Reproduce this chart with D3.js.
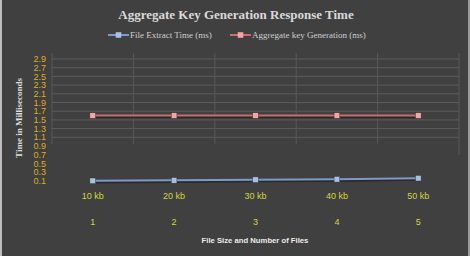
<!DOCTYPE html>
<html>
<head>
<meta charset="utf-8">
<script src="https://cdn.jsdelivr.net/npm/d3@7"></script>
<style>
  body { margin: 0; background: #404040; }
  svg { display: block; }
</style>
</head>
<body>
<svg id="chart" width="470" height="256"></svg>
<script>
// chart values
const sizes = ["10 kb", "20 kb", "30 kb", "40 kb", "50 kb"];
const fileCounts = ["1", "2", "3", "4", "5"];
const extractTime = [0.1, 0.11, 0.125, 0.135, 0.16];
const aggregateTime = [1.6, 1.6, 1.6, 1.6, 1.6];
const yTicks = [0.1, 0.3, 0.5, 0.7, 0.9, 1.1, 1.3, 1.5, 1.7, 1.9, 2.1, 2.3, 2.5, 2.7, 2.9];
const gridTicks = [1.1, 1.3, 1.5, 1.7, 1.9, 2.1, 2.3, 2.5, 2.7, 2.9];
const seriesNames = ["File Extract Time (ms)", "Aggregate key Generation (ms)"];

const width = 470, height = 256;
const margin = { top: 59, right: 11, bottom: 75, left: 52 };

const svg = d3.select("#chart");

// background + side borders
svg.append("rect").attr("width", width).attr("height", height).attr("fill", "#404040");
svg.append("rect").attr("x", 0).attr("width", 2).attr("height", height).attr("fill", "#bdbdbd");
svg.append("rect").attr("x", width - 2).attr("width", 2).attr("height", height).attr("fill", "#9a9a9a");

const xScale = d3.scaleBand()
    .domain(sizes)
    .range([margin.left, width - margin.right]);

const yScale = d3.scaleLinear()
    .domain([1.1, 2.9])
    .range([137.3, margin.top]);

// gridlines
const grid = svg.append("g");
grid.selectAll(".hgrid")
    .data(gridTicks)
    .enter().append("line")
    .attr("x1", margin.left)
    .attr("x2", width - margin.right)
    .attr("y1", d => yScale(d))
    .attr("y2", d => yScale(d))
    .attr("stroke", "#5c5c5c")
    .attr("stroke-width", 1);

const vx = sizes.map(s => xScale(s)).concat([xScale.range()[1]]);
grid.selectAll(".vgrid")
    .data(vx)
    .enter().append("line")
    .attr("x1", d => d)
    .attr("x2", d => d)
    .attr("y1", 53)
    .attr("y2", (d, i) => i === vx.length - 1 ? 155 : 144)
    .attr("stroke", "#585858")
    .attr("stroke-width", 1);

// y tick labels
svg.append("g").selectAll("text")
    .data(yTicks)
    .enter().append("text")
    .attr("x", 46)
    .attr("y", d => yScale(d))
    .attr("dy", "0.35em")
    .attr("text-anchor", "end")
    .attr("fill", "#dcae22")
    .style("font", "9px 'Liberation Sans', sans-serif")
    .text(d => d.toFixed(1));

// y title
svg.append("text")
    .attr("transform", `translate(22,118) rotate(-90)`)
    .attr("text-anchor", "middle")
    .attr("fill", "#dedede")
    .style("font", "bold 9px 'Liberation Serif', serif")
    .text("Time in Milliseconds");

// x labels
const cx = d => xScale(d) + xScale.bandwidth() / 2;
svg.append("g").selectAll("text")
    .data(sizes)
    .enter().append("text")
    .attr("x", cx)
    .attr("y", 199)
    .attr("text-anchor", "middle")
    .attr("fill", "#d3d63c")
    .style("font", "9px 'Liberation Sans', sans-serif")
    .text(d => d);

svg.append("g").selectAll("text")
    .data(fileCounts)
    .enter().append("text")
    .attr("x", (d, i) => cx(sizes[i]))
    .attr("y", 225)
    .attr("text-anchor", "middle")
    .attr("fill", "#d3d63c")
    .style("font", "9px 'Liberation Sans', sans-serif")
    .text(d => d);

svg.append("text")
    .attr("x", 255)
    .attr("y", 243)
    .attr("text-anchor", "middle")
    .attr("fill", "#ececec")
    .style("font", "bold 7.7px 'Liberation Sans', sans-serif")
    .text("File Size and Number of Files");

// title
svg.append("text")
    .attr("x", 236)
    .attr("y", 18.5)
    .attr("text-anchor", "middle")
    .attr("fill", "#dadada")
    .style("font", "bold 13px 'Liberation Serif', serif")
    .text("Aggregate Key Generation Response Time");

// series
const series = [
    { name: seriesNames[0], values: extractTime, line: "#7b9bcb", marker: "#a9c0e2" },
    { name: seriesNames[1], values: aggregateTime, line: "#c86e6c", marker: "#f0a8a6" }
];

const lineGen = d3.line()
    .x((d, i) => cx(sizes[i]))
    .y(d => yScale(d));

series.forEach(s => {
    // shadow
    svg.append("path")
        .datum(s.values)
        .attr("d", lineGen)
        .attr("transform", "translate(1,1.5)")
        .attr("fill", "none")
        .attr("stroke", "#2a2a2a")
        .attr("stroke-width", 2.2);
    svg.append("path")
        .datum(s.values)
        .attr("d", lineGen)
        .attr("fill", "none")
        .attr("stroke", s.line)
        .attr("stroke-width", 2);
    svg.selectAll(null)
        .data(s.values)
        .enter().append("rect")
        .attr("x", (d, i) => cx(sizes[i]) - 2.8)
        .attr("y", d => yScale(d) - 2.8)
        .attr("width", 5.6)
        .attr("height", 5.6)
        .attr("fill", s.marker)
        .attr("stroke", "#2c2c2c")
        .attr("stroke-width", 0.4);
});

// legend
const legendItems = [
    { x: 108, s: series[0] },
    { x: 230, s: series[1] }
];
legendItems.forEach(l => {
    const g = svg.append("g").attr("transform", `translate(${l.x},35)`);
    g.append("line").attr("x1", 0).attr("x2", 21).attr("stroke", l.s.line).attr("stroke-width", 2);
    g.append("rect").attr("x", 7.7).attr("y", -2.8).attr("width", 5.6).attr("height", 5.6).attr("fill", l.s.marker);
    g.append("text")
        .attr("x", 22)
        .attr("dy", "0.35em")
        .attr("fill", "#cfcfcf")
        .style("font", "9px 'Liberation Serif', serif")
        .text(l.s.name);
});
</script>
</body>
</html>
